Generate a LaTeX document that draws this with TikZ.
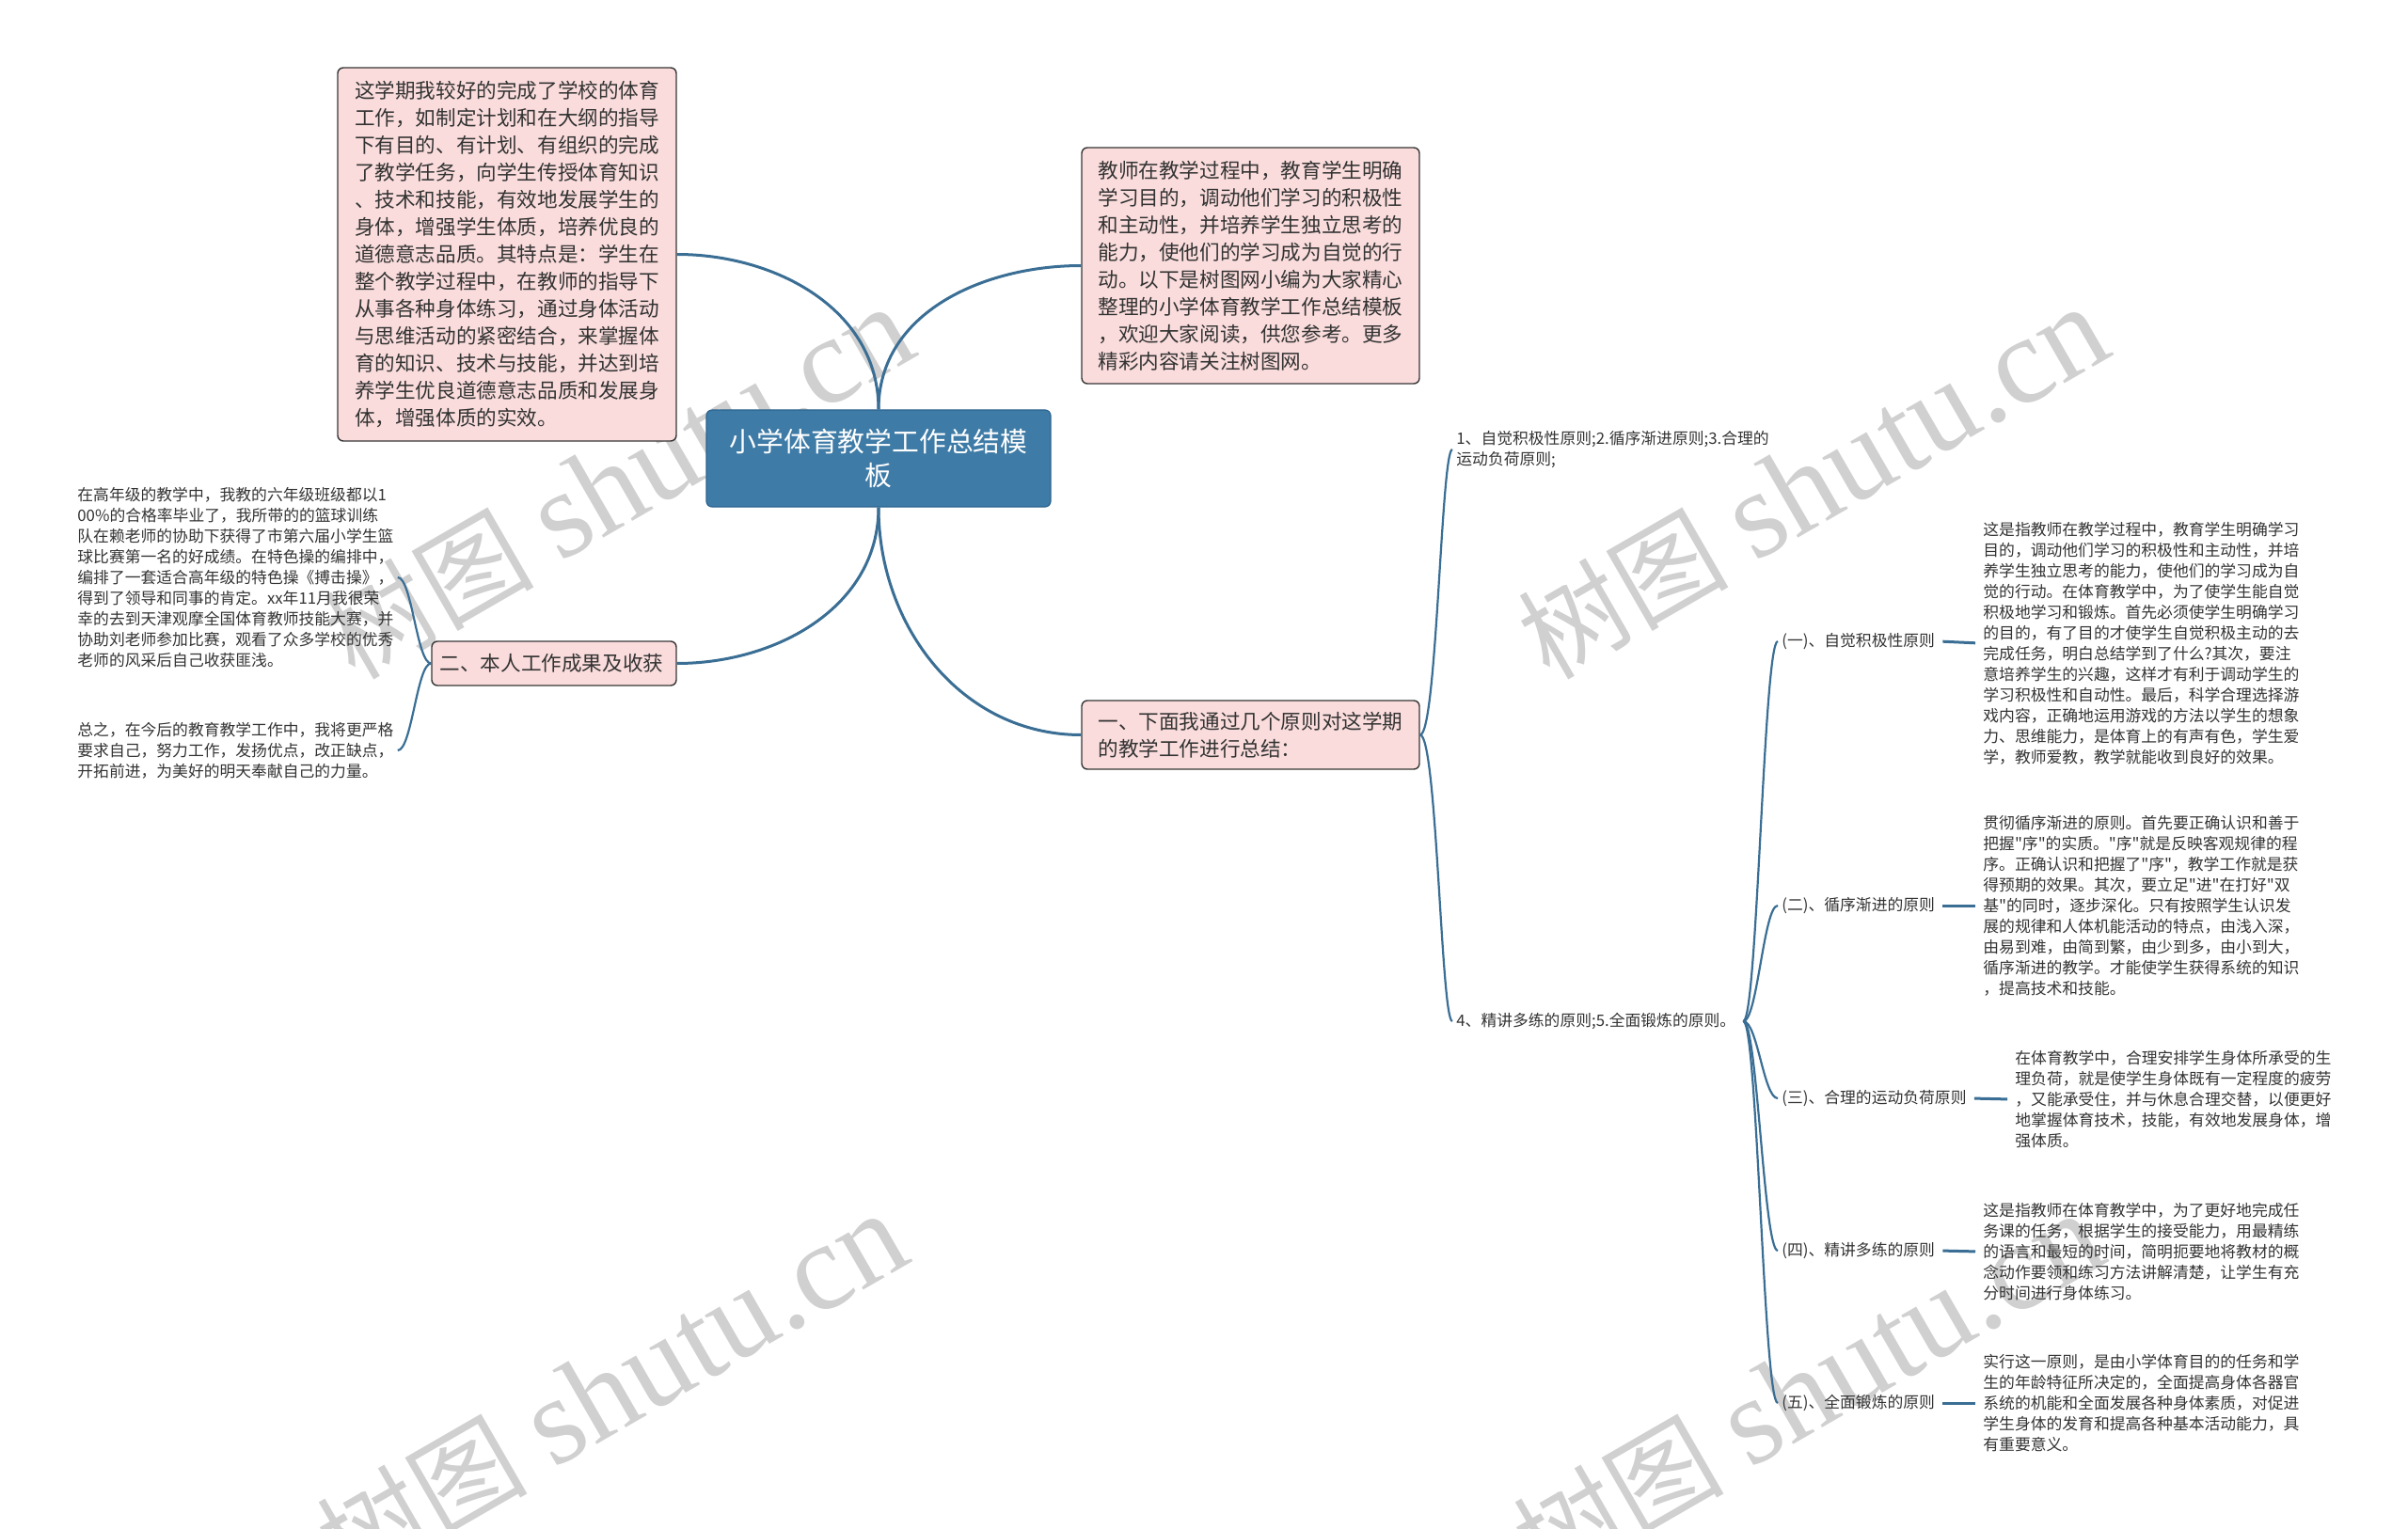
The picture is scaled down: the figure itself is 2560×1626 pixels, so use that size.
\documentclass[tikz,border=0pt]{standalone}
\usepackage{fontspec}
\setmainfont{Noto Sans CJK SC}
\newfontfamily\cjkplain{Noto Sans CJK SC}
\newfontfamily\wmserif{Liberation Serif}
\definecolor{rootfill}{RGB}{62, 123, 166}
\definecolor{rootdraw}{RGB}{45, 100, 142}
\definecolor{boxfill}{RGB}{250, 220, 220}
\definecolor{boxdraw}{RGB}{55, 55, 55}
\definecolor{linkcol}{RGB}{58, 110, 148}
\definecolor{txt}{RGB}{51, 51, 51}
\definecolor{wmgray}{RGB}{208, 208, 208}

\begin{document}
\begin{tikzpicture}[x=0.5pt, y=0.5pt,
    rootbox/.style={rectangle, rounded corners=3pt, draw=rootdraw, line width=0.6pt, fill=rootfill,
                    text=white, align=center, font=\cjkplain\fontsize{14.4}{18}\selectfont},
    topicbox/.style={rectangle, rounded corners=3pt, draw=boxdraw, line width=0.7pt, fill=boxfill,
                     text=txt, align=left, inner xsep=4pt, font=\cjkplain\fontsize{10.8}{14.5}\selectfont},
    leaftext/.style={inner sep=2pt, text=txt, align=left, font=\cjkplain\fontsize{8.4}{11}\selectfont},
    linkline/.style={draw=linkcol, line width=1.1pt},
    wmtext/.style={text=wmgray, rotate=30, inner sep=0pt}]

    \useasboundingbox (0, 0) rectangle (2560, -1626);

    % Watermarks
    \foreach \wx/\wy [count=\i] in {657/514, 1927/514, 650/1478, 1922/1478}
        \node[wmtext] (wm\i) at (\wx, -\wy) {{\cjkplain\fontsize{56}{56}\selectfont 树图}\hspace{14pt}{\wmserif\fontsize{66}{66}\selectfont shutu.cn}};

    % Root
    \node[rootbox, minimum width=183pt, minimum height=51.5pt] (root) at (934, -487.5) {
        小学体育教学工作总结模\\板
    };

    % Upper left
    \node[topicbox, minimum width=180pt, minimum height=198.5pt] (summary) at (539, -270.5) {
        这学期我较好的完成了学校的体育\\
        工作，如制定计划和在大纲的指导\\
        下有目的、有计划、有组织的完成\\
        了教学任务，向学生传授体育知识\\
        、技术和技能，有效地发展学生的\\
        身体，增强学生体质，培养优良的\\
        道德意志品质。其特点是：学生在\\
        整个教学过程中，在教师的指导下\\
        从事各种身体练习，通过身体活动\\
        与思维活动的紧密结合，来掌握体\\
        育的知识、技术与技能，并达到培\\
        养学生优良道德意志品质和发展身\\
        体，增强体质的实效。
    };

    % Upper right
    \node[topicbox, minimum width=179.5pt, minimum height=125.5pt] (intro) at (1329.5, -282.5) {
        教师在教学过程中，教育学生明确\\
        学习目的，调动他们学习的积极性\\
        和主动性，并培养学生独立思考的\\
        能力，使他们的学习成为自觉的行\\
        动。以下是树图网小编为大家精心\\
        整理的小学体育教学工作总结模板\\
        ，欢迎大家阅读，供您参考。更多\\
        精彩内容请关注树图网。
    };

    % Lower left
    \node[topicbox, minimum width=130pt, minimum height=23.5pt] (gains) at (589, -705.5) {
        二、本人工作成果及收获
    };
    \node[leaftext, anchor=west] (gainsA) at (78, -614) {
        在高年级的教学中，我教的六年级班级都以1\\
        00\%的合格率毕业了，我所带的的篮球训练\\
        队在赖老师的协助下获得了市第六届小学生篮\\
        球比赛第一名的好成绩。在特色操的编排中，\\
        编排了一套适合高年级的特色操《搏击操》，\\
        得到了领导和同事的肯定。xx年11月我很荣\\
        幸的去到天津观摩全国体育教师技能大赛，并\\
        协助刘老师参加比赛，观看了众多学校的优秀\\
        老师的风采后自己收获匪浅。
    };
    \node[leaftext, anchor=west] (gainsB) at (78, -798) {
        总之，在今后的教育教学工作中，我将更严格\\
        要求自己，努力工作，发扬优点，改正缺点，\\
        开拓前进，为美好的明天奉献自己的力量。
    };

    % Lower right
    \node[topicbox, minimum width=179.5pt, minimum height=36.5pt] (review) at (1329.5, -781.5) {
        一、下面我通过几个原则对这学期\\
        的教学工作进行总结：
    };
    \node[leaftext, anchor=west] (listA) at (1544, -478) {
        1、自觉积极性原则;2.循序渐进原则;3.合理的\\
        运动负荷原则;
    };
    \node[leaftext, anchor=west] (listB) at (1544, -1086) {
        4、精讲多练的原则;5.全面锻炼的原则。
    };

    % Principles
    \node[leaftext, anchor=west] (p1) at (1890, -682) {(一)、自觉积极性原则};
    \node[leaftext, anchor=west] (p2) at (1890, -963) {(二)、循序渐进的原则};
    \node[leaftext, anchor=west] (p3) at (1890, -1168) {(三)、合理的运动负荷原则};
    \node[leaftext, anchor=west] (p4) at (1890, -1330) {(四)、精讲多练的原则};
    \node[leaftext, anchor=west] (p5) at (1890, -1492) {(五)、全面锻炼的原则};

    \node[leaftext, anchor=west] (d1) at (2104, -684) {
        这是指教师在教学过程中，教育学生明确学习\\
        目的，调动他们学习的积极性和主动性，并培\\
        养学生独立思考的能力，使他们的学习成为自\\
        觉的行动。在体育教学中，为了使学生能自觉\\
        积极地学习和锻炼。首先必须使学生明确学习\\
        的目的，有了目的才使学生自觉积极主动的去\\
        完成任务，明白总结学到了什么?其次，要注\\
        意培养学生的兴趣，这样才有利于调动学生的\\
        学习积极性和自动性。最后，科学合理选择游\\
        戏内容，正确地运用游戏的方法以学生的想象\\
        力、思维能力，是体育上的有声有色，学生爱\\
        学，教师爱教，教学就能收到良好的效果。
    };
    \node[leaftext, anchor=west] (d2) at (2104, -963) {
        贯彻循序渐进的原则。首先要正确认识和善于\\
        把握"序"的实质。"序"就是反映客观规律的程\\
        序。正确认识和把握了"序"，教学工作就是获\\
        得预期的效果。其次，要立足"进"在打好"双\\
        基"的同时，逐步深化。只有按照学生认识发\\
        展的规律和人体机能活动的特点，由浅入深，\\
        由易到难，由简到繁，由少到多，由小到大，\\
        循序渐进的教学。才能使学生获得系统的知识\\
        ，提高技术和技能。
    };
    \node[leaftext, anchor=west] (d3) at (2138, -1169) {
        在体育教学中，合理安排学生身体所承受的生\\
        理负荷，就是使学生身体既有一定程度的疲劳\\
        ，又能承受住，并与休息合理交替，以便更好\\
        地掌握体育技术，技能，有效地发展身体，增\\
        强体质。
    };
    \node[leaftext, anchor=west] (d4) at (2104, -1331) {
        这是指教师在体育教学中，为了更好地完成任\\
        务课的任务，根据学生的接受能力，用最精练\\
        的语言和最短的时间，简明扼要地将教材的概\\
        念动作要领和练习方法讲解清楚，让学生有充\\
        分时间进行身体练习。
    };
    \node[leaftext, anchor=west] (d5) at (2104, -1492) {
        实行这一原则，是由小学体育目的的任务和学\\
        生的年龄特征所决定的，全面提高身体各器官\\
        系统的机能和全面发展各种身体素质，对促进\\
        学生身体的发育和提高各种基本活动能力，具\\
        有重要意义。
    };

    % Links from the root
    \draw[linkline, line width=1.5pt] (root.north) to[out=90, in=0] (summary.east);
    \draw[linkline, line width=1.5pt] (root.north) to[out=90, in=180] (intro.west);
    \draw[linkline, line width=1.5pt] (root.south) to[out=-90, in=0] (gains.east);
    \draw[linkline, line width=1.5pt] (root.south) to[out=-90, in=180] (review.west);

    % Links on the left
    \draw[linkline] (gains.west) .. controls +(-15, 0) and +(15, 0) .. (gainsA.east);
    \draw[linkline] (gains.west) .. controls +(-15, 0) and +(15, 0) .. (gainsB.east);

    % Links on the right
    \draw[linkline] (review.east) .. controls +(18, 0) and +(-12, 0) .. (listA.west);
    \draw[linkline] (review.east) .. controls +(18, 0) and +(-12, 0) .. (listB.west);
    \foreach \p in {1, ..., 5} {
        \draw[linkline] (listB.east) .. controls +(15, 0) and +(-15, 0) .. (p\p.west);
        \draw[linkline, line width=1.5pt, shorten <=2pt, shorten >=2pt] (p\p.east) -- (d\p.west);
    }
\end{tikzpicture}
\end{document}
